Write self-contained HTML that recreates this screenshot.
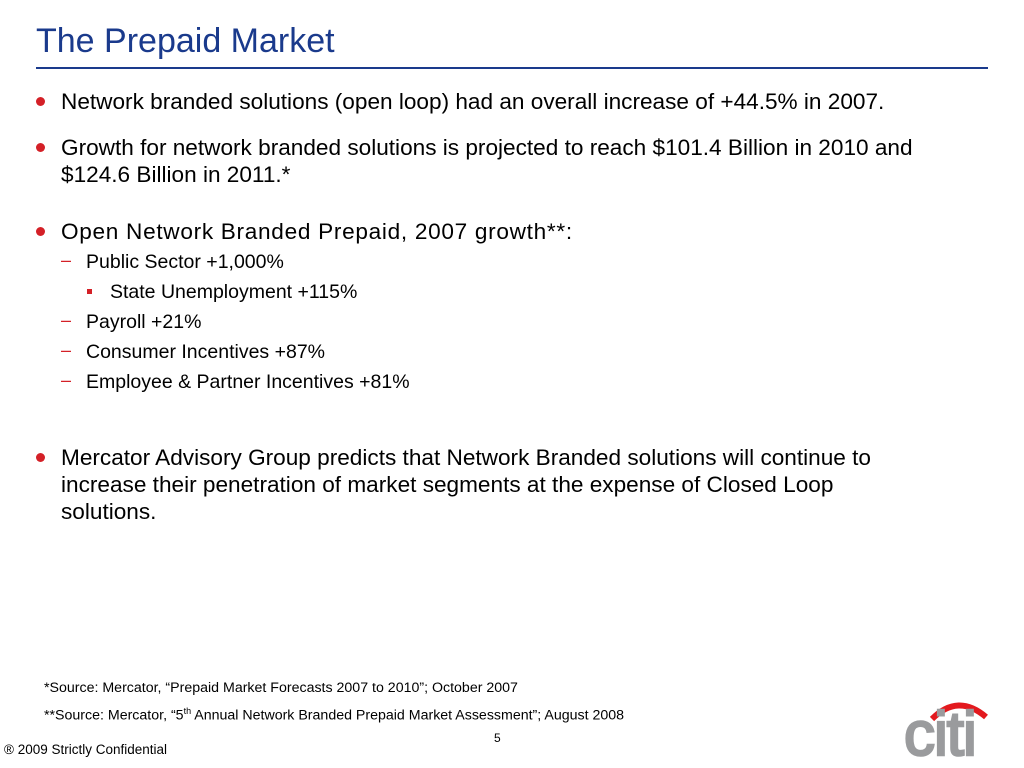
<!DOCTYPE html>
<html><head><meta charset="utf-8">
<style>
body{margin:0;width:1024px;height:768px;background:#fff;position:relative;overflow:hidden;font-family:"Liberation Sans",Arial,sans-serif;color:#000}
.a{position:absolute;white-space:nowrap}
.b{font-size:22.6px;line-height:27px}
.s{font-size:19.5px;line-height:22px}
.dot{position:absolute;width:9px;height:9px;border-radius:50%;background:#d42027}
.dash{position:absolute;color:#d42027;font-size:18px}
.sq{position:absolute;width:5px;height:5px;background:#d42027}
</style></head><body>
<div class="a" style="left:36px;top:21px;font-size:34px;line-height:40px;color:#1a3a8c">The Prepaid Market</div>
<div class="a" style="left:36px;top:67px;width:952px;height:2px;background:#1a3a8c"></div>

<div class="dot" style="left:36px;top:97px"></div>
<div class="a b" style="left:61px;top:88px">Network branded solutions (open loop) had an overall increase of +44.5% in 2007.</div>

<div class="dot" style="left:36px;top:143px"></div>
<div class="a b" style="left:61px;top:134px">Growth for network branded solutions is projected to reach $101.4 Billion in 2010 and<br>$124.6 Billion in 2011.*</div>

<div class="dot" style="left:36px;top:227px"></div>
<div class="a b" style="left:61px;top:218px;letter-spacing:0.7px">Open Network Branded Prepaid, 2007 growth**:</div>

<div class="dash" style="left:61px;top:250px">–</div>
<div class="a s" style="left:86px;top:251px">Public Sector +1,000%</div>
<div class="sq" style="left:87px;top:289px"></div>
<div class="a s" style="left:110px;top:281px">State Unemployment +115%</div>
<div class="dash" style="left:61px;top:310px">–</div>
<div class="a s" style="left:86px;top:311px">Payroll +21%</div>
<div class="dash" style="left:61px;top:340px">–</div>
<div class="a s" style="left:86px;top:341px">Consumer Incentives +87%</div>
<div class="dash" style="left:61px;top:370px">–</div>
<div class="a s" style="left:86px;top:371px">Employee &amp; Partner Incentives +81%</div>

<div class="dot" style="left:36px;top:453px"></div>
<div class="a b" style="left:61px;top:444px">Mercator Advisory Group predicts that Network Branded solutions will continue to<br>increase their penetration of market segments at the expense of Closed Loop<br>solutions.</div>

<div class="a" style="left:44px;top:680px;font-size:14.2px">*Source: Mercator, “Prepaid Market Forecasts 2007 to 2010”; October 2007</div>
<div class="a" style="left:44px;top:706px;font-size:14.2px">**Source: Mercator, “5<sup style="font-size:9px">th</sup> Annual Network Branded Prepaid Market Assessment”; August 2008</div>
<div class="a" style="left:494px;top:731px;font-size:12px">5</div>
<div class="a" style="left:4px;top:742px;font-size:13.5px">® 2009 Strictly Confidential</div>

<svg class="a" style="left:900px;top:695px" width="110" height="70">
<path d="M 32 24 Q 58 -2 86 22" stroke="#e3191e" stroke-width="6" fill="none"/>
<text x="4" y="60" font-family="Liberation Sans, sans-serif" font-size="62" fill="#9a9b9d" stroke="#9a9b9d" stroke-width="2.5" letter-spacing="-1">citi</text>
</svg>
</body></html>
